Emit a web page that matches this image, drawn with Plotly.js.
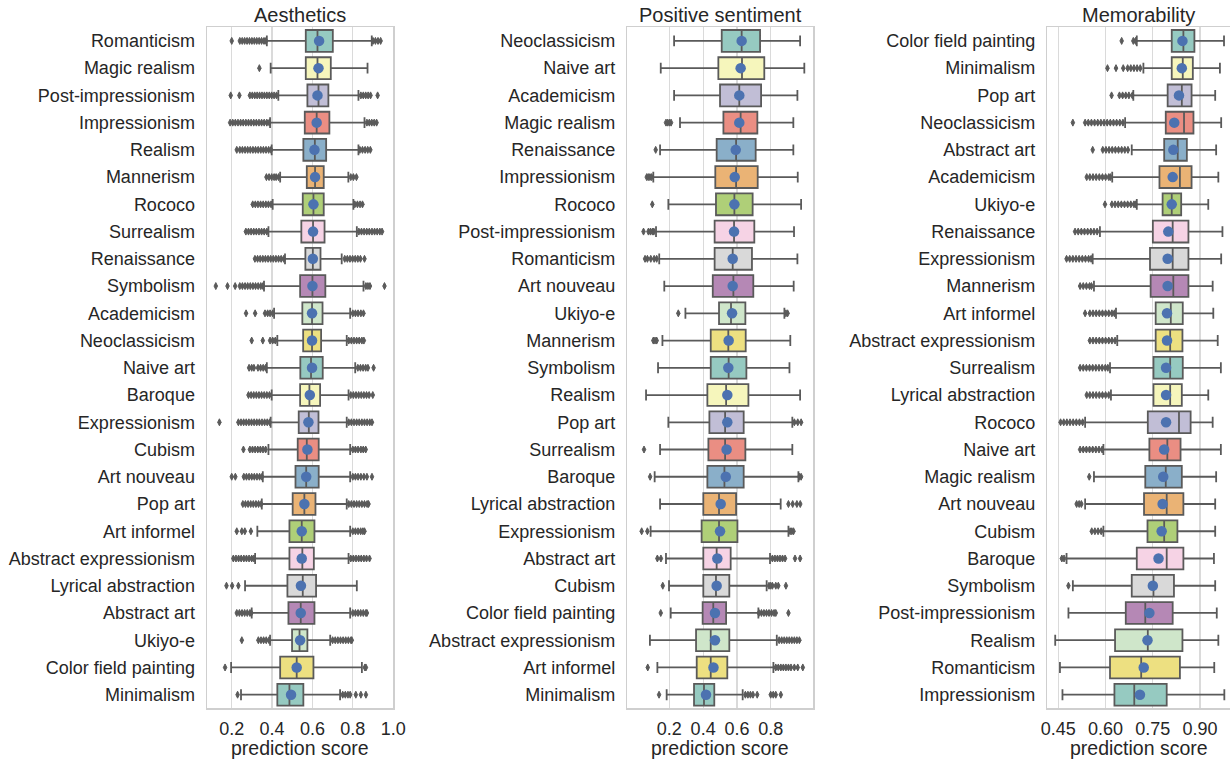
<!DOCTYPE html>
<html>
<head>
<meta charset="utf-8">
<script src="https://cdn.plot.ly/plotly-3.0.1.min.js"></script>
<style>html,body{margin:0;padding:0;background:#fff;}#chart{width:1230px;height:760px;}</style>
</head>
<body>
<div id="chart"></div>
<script>
// ---------------- Panel 1: Aesthetics ----------------
const aesCats = ["Romanticism","Magic realism","Post-impressionism","Impressionism","Realism","Mannerism","Rococo","Surrealism","Renaissance","Symbolism","Academicism","Neoclassicism","Naive art","Baroque","Expressionism","Cubism","Art nouveau","Pop art","Art informel","Abstract expressionism","Lyrical abstraction","Abstract art","Ukiyo-e","Color field painting","Minimalism"];
const aesQ1  = [.567,.567,.575,.562,.555,.572,.552,.545,.565,.539,.550,.554,.540,.539,.532,.527,.516,.502,.486,.486,.476,.481,.499,.440,.426];
const aesMed = [.625,.625,.630,.621,.612,.613,.605,.603,.602,.600,.598,.598,.593,.585,.582,.572,.569,.560,.547,.550,.552,.542,.536,.522,.486];
const aesQ3  = [.701,.691,.679,.684,.668,.656,.656,.660,.640,.664,.650,.643,.651,.638,.630,.631,.631,.615,.610,.607,.618,.610,.575,.605,.555];
const aesLo  = [.374,.393,.431,.390,.398,.440,.403,.382,.464,.360,.410,.426,.374,.398,.393,.382,.354,.349,.327,.316,.266,.299,.390,.197,.246];
const aesHi  = [.894,.873,.828,.858,.828,.778,.803,.820,.745,.853,.787,.770,.812,.779,.770,.787,.787,.770,.787,.779,.820,.787,.688,.845,.737];
const aesMean= [.633,.630,.625,.621,.610,.613,.605,.603,.602,.600,.598,.598,.598,.587,.580,.575,.569,.560,.547,.547,.543,.542,.539,.522,.494];
const aesOut = [
  [.20,.24,.252,.264,.276,.288,.30,.312,.324,.336,.348,.36,.37,.90,.912,.925,.938],
  [.337],
  [.195,.238,.29,.302,.314,.326,.338,.35,.362,.374,.386,.398,.41,.422,.84,.852,.864,.876,.888,.923],
  [.192,.205,.218,.231,.244,.257,.27,.283,.296,.309,.322,.335,.348,.361,.374,.386,.87,.882,.894,.906,.918],
  [.225,.24,.253,.266,.279,.292,.305,.318,.331,.344,.357,.37,.383,.395,.835,.848,.861,.874,.887],
  [.372,.385,.398,.41,.42,.432,.79,.803,.818],
  [.304,.317,.33,.343,.356,.369,.382,.395,.81,.823,.836,.848],
  [.27,.283,.296,.309,.322,.335,.348,.361,.374,.83,.843,.856,.869,.882,.895,.908,.921,.934,.945],
  [.315,.328,.341,.354,.367,.38,.393,.406,.419,.432,.445,.458,.76,.773,.786,.799,.812,.825,.838,.858],
  [.121,.179,.217,.24,.253,.266,.279,.292,.305,.318,.331,.344,.355,.865,.875,.885,.957],
  [.271,.316,.365,.378,.39,.403,.80,.813,.826,.84,.853],
  [.299,.354,.39,.403,.416,.78,.793,.806,.819,.832,.845,.855],
  [.286,.299,.31,.33,.343,.356,.368,.825,.838,.851,.864,.875,.903],
  [.283,.296,.309,.322,.335,.348,.361,.374,.387,.79,.803,.816,.829,.842,.855,.868,.881,.899],
  [.139,.233,.246,.259,.272,.285,.298,.311,.324,.337,.35,.363,.376,.388,.78,.793,.806,.819,.832,.845,.858,.871,.884,.895],
  [.258,.29,.303,.316,.329,.342,.355,.368,.80,.813,.826,.84,.852,.864],
  [.20,.218,.26,.273,.286,.299,.312,.325,.338,.35,.80,.813,.826,.84,.855,.87,.895],
  [.255,.268,.281,.294,.307,.32,.333,.346,.78,.793,.806,.819,.832,.845,.858,.871,.878],
  [.225,.25,.265,.295,.80,.813,.826,.839,.85,.858],
  [.208,.221,.234,.247,.26,.273,.286,.299,.31,.79,.803,.816,.829,.842,.855,.868,.883],
  [.174,.202,.233],
  [.225,.238,.251,.264,.277,.29,.297,.80,.813,.826,.839,.852,.865,.87],
  [.250,.332,.345,.358,.371,.385,.70,.713,.726,.739,.752,.765,.778,.791,.795],
  [.167,.86,.865],
  [.229,.75,.763,.776,.787,.815,.84,.865]
];
const aesTicks = [0.2,0.4,0.6,0.8,1.0];
const aesTickText = ["0.2","0.4","0.6","0.8","1.0"];

// ---------------- Panel 2: Positive sentiment ----------------
const posCats = ["Neoclassicism","Naive art","Academicism","Magic realism","Renaissance","Impressionism","Rococo","Post-impressionism","Romanticism","Art nouveau","Ukiyo-e","Mannerism","Symbolism","Realism","Pop art","Surrealism","Baroque","Lyrical abstraction","Expressionism","Abstract art","Cubism","Color field painting","Abstract expressionism","Art informel","Minimalism"];
const posQ1  = [.510,.490,.500,.520,.480,.472,.476,.468,.468,.457,.494,.445,.445,.425,.437,.431,.425,.401,.391,.401,.401,.397,.358,.362,.346];
const posMed = [.628,.630,.614,.622,.595,.595,.585,.583,.575,.579,.565,.549,.551,.536,.530,.530,.526,.494,.494,.480,.476,.460,.445,.445,.405];
const posQ3  = [.737,.762,.743,.721,.711,.723,.693,.703,.689,.697,.650,.652,.656,.668,.640,.650,.640,.595,.603,.563,.555,.536,.555,.543,.466];
const posLo  = [.228,.149,.228,.263,.145,.105,.194,.121,.140,.170,.295,.159,.133,.062,.194,.145,.113,.145,.089,.180,.198,.208,.085,.129,.184];
const posHi  = [.974,.999,.958,.934,.934,.960,.980,.938,.958,.936,.881,.916,.911,.974,.928,.928,.964,.859,.905,.796,.776,.727,.836,.816,.634];
const posMean= [.628,.622,.614,.614,.593,.587,.585,.583,.575,.575,.571,.551,.549,.543,.543,.539,.534,.504,.500,.484,.480,.470,.470,.461,.417];
const posOut = [
  [], [], [],
  [.18,.19,.20,.21],
  [.119],
  [.066,.075,.085,.095],
  [.099],
  [.047,.076,.088,.10,.108],
  [.056,.07,.09,.11,.125],
  [],
  [.253,.89,.90],
  [.105,.115,.125],
  [], [],
  [.94,.96,.98],
  [.050],
  [.086,.97,.98],
  [.905,.93,.955,.975],
  [.036,.07,.915,.925,.935],
  [.129,.15,.81,.825,.84,.855,.87,.885,.944,.974],
  [.161,.79,.80,.81,.83,.845,.89],
  [.149,.73,.745,.76,.775,.79,.805,.82,.83,.905],
  [.85,.865,.88,.895,.91,.925,.94,.955,.97],
  [.072,.83,.845,.86,.875,.89,.905,.92,.94,.96,.99],
  [.139,.65,.665,.68,.695,.72,.80,.815,.83,.86]
];
const posTicks = [0.2,0.4,0.6,0.8];
const posTickText = ["0.2","0.4","0.6","0.8"];

// ---------------- Panel 3: Memorability ----------------
const memCats = ["Color field painting","Minimalism","Pop art","Neoclassicism","Abstract art","Academicism","Ukiyo-e","Renaissance","Expressionism","Mannerism","Art informel","Abstract expressionism","Surrealism","Lyrical abstraction","Rococo","Naive art","Magic realism","Art nouveau","Cubism","Baroque","Symbolism","Post-impressionism","Realism","Romanticism","Impressionism"];
const memQ1  = [.810,.810,.797,.791,.786,.771,.781,.750,.741,.743,.759,.759,.752,.752,.734,.739,.726,.722,.733,.699,.683,.664,.630,.614,.628];
const memMed = [.847,.845,.842,.849,.829,.836,.810,.813,.813,.815,.807,.805,.805,.805,.833,.796,.791,.794,.786,.794,.752,.726,.734,.713,.691];
const memQ3  = [.882,.877,.873,.879,.858,.873,.840,.863,.863,.863,.845,.844,.845,.842,.870,.838,.842,.847,.828,.847,.817,.813,.844,.836,.794];
const memLo  = [.699,.720,.688,.662,.683,.621,.699,.582,.559,.563,.633,.637,.614,.617,.535,.593,.563,.535,.593,.476,.496,.482,.440,.455,.463];
const memHi  = [.976,.963,.948,.967,.951,.958,.926,.971,.967,.940,.942,.956,.966,.926,.940,.966,.951,.948,.948,.944,.948,.953,.958,.945,.977];
const memMean= [.844,.842,.833,.818,.815,.813,.810,.799,.797,.797,.795,.795,.792,.792,.792,.786,.783,.781,.778,.768,.750,.739,.733,.721,.709];
const memOut = [
  [.651,.688,.695],
  [.606,.633,.656,.67,.68,.69,.70,.71],
  [.619,.644,.654,.664,.674,.685],
  [.496,.535,.545,.555,.565,.575,.585,.595,.605,.615,.625,.635,.645,.655],
  [.559,.591,.601,.611,.621,.631,.641,.651,.661,.671],
  [.54,.55,.56,.57,.58,.59,.60,.61,.615],
  [.598,.62,.63,.64,.65,.66,.67,.68,.69,.695],
  [.503,.513,.523,.533,.543,.553,.563,.573],
  [.476,.486,.496,.506,.516,.526,.536,.546,.554],
  [.519,.529,.539,.549,.555],
  [.535,.55,.56,.57,.58,.59,.60,.61,.62,.628],
  [.55,.56,.57,.58,.59,.60,.61,.62,.63],
  [.519,.529,.539,.549,.559,.569,.579,.589,.599,.607],
  [.54,.55,.56,.57,.58,.59,.60,.61],
  [.457,.467,.477,.487,.497,.507,.517,.527],
  [.519,.529,.539,.549,.559,.569,.579,.589],
  [.548],
  [.508,.516,.523],
  [.556,.566,.576,.586],
  [.461,.468],
  [.482],
  [], [], [], []
];
const memTicks = [0.45,0.60,0.75,0.90];
const memTickText = ["0.45","0.60","0.75","0.90"];

const panelTitles = ["Aesthetics","Positive sentiment","Memorability"];
const xTitle = "prediction score";

// ---------------- Styling ----------------
const set3 = ["#8dd3c7","#ffffb3","#bebada","#fb8072","#80b1d3","#fdb462","#b3de69","#fccde5","#d9d9d9","#bc80bd","#ccebc5","#ffed6f"];
function desat(hex, f){
  let r=parseInt(hex.substr(1,2),16)/255,g=parseInt(hex.substr(3,2),16)/255,b=parseInt(hex.substr(5,2),16)/255;
  const mx=Math.max(r,g,b), mn=Math.min(r,g,b), l=(mx+mn)/2;
  let h=0,s=0;
  if(mx!==mn){
    const d=mx-mn;
    s = l>0.5 ? d/(2-mx-mn) : d/(mx+mn);
    if(mx===r) h=((g-b)/d+(g<b?6:0)); else if(mx===g) h=(b-r)/d+2; else h=(r-g)/d+4;
    h/=6;
  }
  s*=f;
  function hue2rgb(p,q,t){ if(t<0)t+=1; if(t>1)t-=1; if(t<1/6)return p+(q-p)*6*t; if(t<1/2)return q; if(t<2/3)return p+(q-p)*(2/3-t)*6; return p; }
  let q = l<0.5 ? l*(1+s) : l+s-l*s, p=2*l-q;
  const rr=hue2rgb(p,q,h+1/3), gg=hue2rgb(p,q,h), bb=hue2rgb(p,q,h-1/3);
  const hx=v=>Math.round(v*255).toString(16).padStart(2,'0');
  return "#"+hx(rr)+hx(gg)+hx(bb);
}
const palette = set3.map(c=>desat(c,0.75));
const lineGray = "#5a5a5a";
const textColor = "#262626";
const FONT = "Liberation Sans, Arial, sans-serif";

const panels = [
  {cats:aesCats,q1:aesQ1,med:aesMed,q3:aesQ3,lo:aesLo,hi:aesHi,mean:aesMean,out:aesOut},
  {cats:posCats,q1:posQ1,med:posMed,q3:posQ3,lo:posLo,hi:posHi,mean:posMean,out:posOut},
  {cats:memCats,q1:memQ1,med:memMed,q3:memQ3,lo:memLo,hi:memHi,mean:memMean,out:memOut}
];

const traces = [];
panels.forEach((P, p) => {
  const xa = p===0 ? 'x' : 'x'+(p+1);
  const ya = p===0 ? 'y' : 'y'+(p+1);
  P.cats.forEach((c, i) => {
    traces.push({
      type:'box', orientation:'h', y:[c],
      q1:[P.q1[i]], median:[P.med[i]], q3:[P.q3[i]],
      lowerfence:[P.lo[i]], upperfence:[P.hi[i]],
      boxpoints:false, boxmean:false,
      fillcolor: palette[i % 12],
      line:{color:lineGray, width:1.8},
      width:0.8, whiskerwidth:0.5,
      xaxis:xa, yaxis:ya, showlegend:false, hoverinfo:'skip'
    });
  });
  const ox=[], oy=[];
  P.out.forEach((arr,i)=>arr.forEach(v=>{ox.push(v); oy.push(P.cats[i]);}));
  traces.push({type:'scatter', mode:'markers', x:ox, y:oy, xaxis:xa, yaxis:ya,
    marker:{symbol:'diamond-tall', size:5, color:lineGray, line:{color:lineGray, width:1}}, showlegend:false, hoverinfo:'skip'});
  traces.push({type:'scatter', mode:'markers', x:P.mean, y:P.cats, xaxis:xa, yaxis:ya,
    marker:{symbol:'circle', size:10.5, color:'#4c72b0'}, showlegend:false, hoverinfo:'skip'});
});

const yDom = [0.0680, 0.9641];
const xDoms = [[0.1683,0.3198],[0.5100,0.6612],[0.8515,1.0]];
const xRanges = [[0.0775,1.001],[-0.049,1.052],[0.415,0.995]];
const xTickVals = [aesTicks,posTicks,memTicks];
const xTickTexts = [aesTickText,posTickText,memTickText];

const layout = {
  width:1230, height:760,
  margin:{l:0,r:0,t:0,b:0},
  paper_bgcolor:'#ffffff', plot_bgcolor:'#ffffff',
  font:{family:FONT, size:18, color:textColor},
  boxmode:'overlay',
  showlegend:false,
  annotations:[]
};
for(let p=0;p<3;p++){
  const xk = p===0 ? 'xaxis' : 'xaxis'+(p+1);
  const yk = p===0 ? 'yaxis' : 'yaxis'+(p+1);
  const yid = p===0 ? 'y' : 'y'+(p+1);
  const xid = p===0 ? 'x' : 'x'+(p+1);
  layout[xk] = {
    domain:xDoms[p], anchor:yid, range:xRanges[p], type:'linear',
    tickvals:xTickVals[p], ticktext:xTickTexts[p], ticks:'',
    showgrid:true, gridcolor:'#dadada', gridwidth:1.2,
    zeroline:false, showline:true, mirror:true, linecolor:'#cfcfcf', linewidth:1.5,
    tickfont:{size:18, color:textColor}, ticklabelstandoff:4, automargin:false
  };
  layout[yk] = {
    domain:yDom, anchor:xid, type:'category', categoryarray:panels[p].cats, categoryorder:'array',
    range:[24.5,-0.5], showgrid:false, zeroline:false, showline:true, mirror:true,
    linecolor:'#cfcfcf', linewidth:1.5, ticks:'',
    tickfont:{size:18, color:textColor}, ticklabelstandoff:7, automargin:false
  };
  const cx = (xDoms[p][0]+xDoms[p][1])/2;
  layout.annotations.push({text:panelTitles[p], xref:'paper', yref:'paper', x:cx, y:1-15/760,
    xanchor:'center', yanchor:'middle', showarrow:false, font:{size:20, color:textColor}});
  layout.annotations.push({text:xTitle, xref:'paper', yref:'paper', x:cx, y:1-748/760,
    xanchor:'center', yanchor:'middle', showarrow:false, font:{size:19.5, color:textColor}});
}

Plotly.newPlot('chart', traces, layout, {staticPlot:true, displayModeBar:false});
</script>
</body>
</html>
